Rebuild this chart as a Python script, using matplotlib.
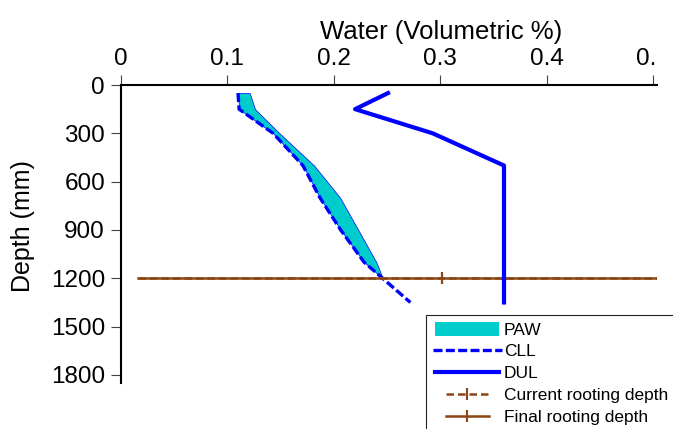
import matplotlib
matplotlib.use("Agg")
import matplotlib.pyplot as plt
import matplotlib.patches as mpatches
from matplotlib.lines import Line2D
from matplotlib.legend_handler import HandlerLine2D, HandlerPatch
from matplotlib.transforms import Bbox, TransformedBbox

plt.rcParams['font.family'] = ['Liberation Sans', 'DejaVu Sans']

# ---- data ----
depth = [50, 150, 300, 500, 700, 900, 1100, 1350]
dul = [0.251, 0.220, 0.293, 0.360, 0.360, 0.360, 0.360, 0.360]
cll = [0.110, 0.111, 0.143, 0.171, 0.187, 0.2065, 0.2285, 0.272]

paw_depth = [50, 150, 300, 500, 700, 900, 1100, 1200]
paw_low = [0.110, 0.111, 0.143, 0.171, 0.187, 0.2065, 0.2285, 0.246]
paw_high = [0.121, 0.126, 0.149, 0.1815, 0.206, 0.223, 0.2400, 0.246]

root_x = [0.016, 0.3015, 0.587]
current_root = [1200, 1200, 1200]
final_root = [1200, 1200, 1200]

xticks = [0, 0.1, 0.2, 0.3, 0.4, 0.5]
xtick_labels = ['0', '0.1', '0.2', '0.3', '0.4', '0.5']
yticks = [0, 300, 600, 900, 1200, 1500, 1800]
ytick_labels = ['0', '300', '600', '900', '1200', '1500', '1800']

BLUE = '#0000FF'
CYAN = '#00CCCC'
BROWN = '#8B4513'

W, H = 673, 429
fig = plt.figure(figsize=(W / 100, H / 100), dpi=100)
ax = fig.add_axes([121 / W, 1 - 383 / H, (657 - 121) / W, (383 - 85) / H])

ax.fill_betweenx(paw_depth, paw_low, paw_high, facecolor=CYAN,
                 edgecolor=BLUE, linewidth=0.5, zorder=2)
ax.plot(cll, depth, color=BLUE, lw=2.4, dashes=(2.7, 1.0), zorder=3)
ax.plot(root_x, current_root, color=BROWN, lw=1.8, dashes=(3.0, 1.6),
        marker='|', ms=9, mew=1.5, markevery=[1], zorder=3.5)
ax.plot(root_x, final_root, color=BROWN, lw=1.8, marker='|', ms=9,
        mew=1.5, markevery=[1], zorder=4)
ax.plot(dul, depth, color=BLUE, lw=3.0, zorder=5)

ax.set_xlim(0, 0.5038)
ax.set_ylim(1850, 0)

ax.xaxis.tick_top()
ax.set_xticks(xticks)
ax.set_xticklabels(xtick_labels)
ax.set_yticks(yticks)
ax.set_yticklabels(ytick_labels)
ax.tick_params(axis='x', direction='out', length=7, width=0.8, pad=3.6,
               labelsize=17.5, color='#444444')
ax.tick_params(axis='y', direction='out', length=7, width=0.8, pad=4.5,
               labelsize=17.5, color='#444444')

for s in ['right', 'bottom']:
    ax.spines[s].set_visible(False)
for s in ['top', 'left']:
    ax.spines[s].set_linewidth(1.5)
    ax.spines[s].set_color('black')

ax.xaxis.set_label_position('top')
ax.set_xlabel('Water (Volumetric %)', fontsize=18.5)
ax.xaxis.set_label_coords((441 - 121) / 536, 1 + (85 - 39) / 298)
ax.set_ylabel('Depth (mm)', fontsize=18)
ax.yaxis.set_label_coords((35.3 - 121) / 536, 1 - (226.5 - 85) / 298)

# clip the last x tick label at the plot's right edge (as in the reference)
clipbox = TransformedBbox(Bbox.from_extents(0, 0, 657 / W, 1), fig.transFigure)
lbl = ax.get_xticklabels()[-1]
lbl.set_clip_box(clipbox)
lbl.set_clip_on(True)


class TrimLine(HandlerLine2D):
    def __init__(self, left=0.0, right=0.0, **kw):
        super().__init__(**kw)
        self.left = left
        self.right = right

    def create_artists(self, legend, orig_handle, xdescent, ydescent,
                       width, height, fontsize, trans):
        nx = xdescent - self.left * width
        nw = width * (1 - self.left - self.right)
        return super().create_artists(legend, orig_handle, nx, ydescent,
                                      nw, height, fontsize, trans)


def paw_rect(legend, orig_handle, xdescent, ydescent, width, height, fontsize):
    return mpatches.Rectangle((-xdescent + 0.036 * width, -ydescent),
                              width * 0.964, height)


h_paw = mpatches.Patch(facecolor=CYAN, edgecolor='none', label='PAW')
h_cll = Line2D([], [], color=BLUE, lw=2.4, dashes=(2.7, 1.0), label='CLL')
h_dul = Line2D([], [], color=BLUE, lw=3.0, label='DUL')
h_cur = Line2D([], [], color=BROWN, lw=1.8, dashes=(3.0, 1.6), marker='|',
               ms=9, mew=1.5, label='Current rooting depth')
h_fin = Line2D([], [], color=BROWN, lw=1.8, marker='|', ms=9, mew=1.5,
               label='Final rooting depth')

leg = ax.legend(handles=[h_paw, h_cll, h_dul, h_cur, h_fin],
                loc='upper left', bbox_to_anchor=(426 / W, 1 - 315 / H),
                bbox_transform=fig.transFigure, borderaxespad=0,
                fontsize=12.5, borderpad=0.38, labelspacing=0.34,
                handlelength=3.82, handleheight=0.86, handletextpad=0.29,
                numpoints=1, fancybox=False, framealpha=1,
                edgecolor='#222222',
                handler_map={
                    h_paw: HandlerPatch(patch_func=paw_rect),
                    h_cll: TrimLine(0.006, -0.045, numpoints=1),
                    h_dul: TrimLine(0.029, 0.0, numpoints=1),
                    h_cur: TrimLine(0.202, 0.151, numpoints=1),
                    h_fin: TrimLine(0.202, 0.151, numpoints=1),
                })
leg.get_frame().set_linewidth(0.8)
leg.set_zorder(10)

fig.savefig('out.png', dpi=100)
